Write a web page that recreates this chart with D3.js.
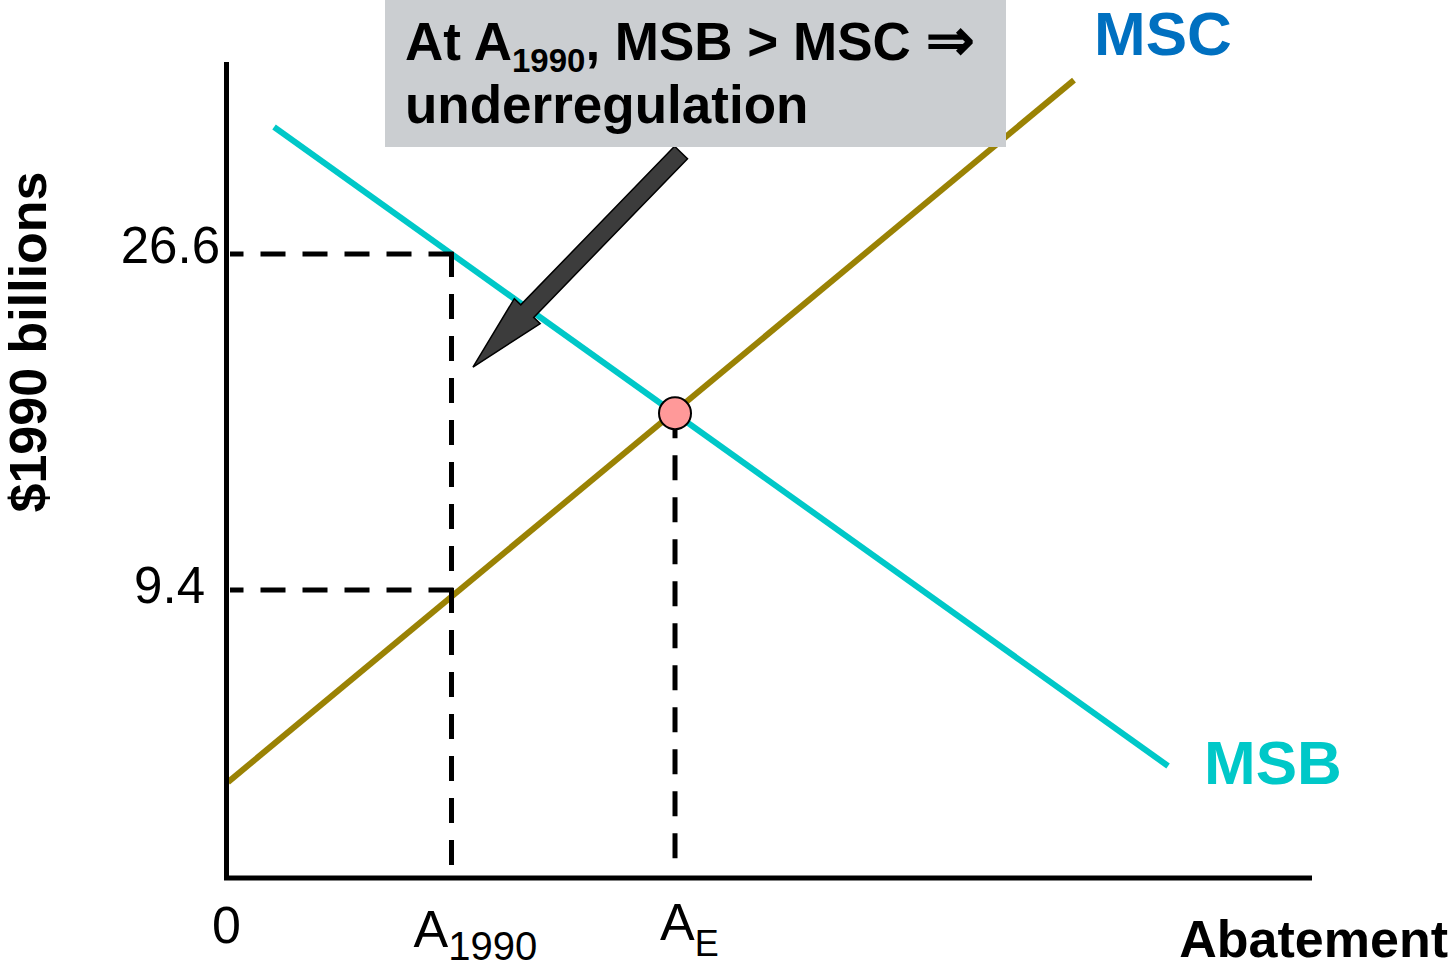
<!DOCTYPE html>
<html>
<head>
<meta charset="utf-8">
<script src="https://cdn.jsdelivr.net/npm/d3@7"></script>
<style>
  html, body { margin: 0; padding: 0; background: #fff; }
  svg { display: block; font-family: "Liberation Sans", Arial, Helvetica, sans-serif; }
</style>
</head>
<body>
<svg id="chart" width="1453" height="968"></svg>
<script>
// ---------------- DATA ----------------
const yTickValues = [9.4, 26.6];
const yTickLabels = ["9.4", "26.6"];
const xTickValues = [0, 1, 2];
const xTickMain = ["0", "A", "A"];
const xTickSub = ["", "1990", "E"];

// Marginal social benefit (falls) and marginal social cost (rises)
const msbX = [0.206, 4.206];
const msbY = [33.1, 0.39];
const mscX = [0, 3.785];
const mscY = [-0.43, 35.5];

// Equilibrium point (A_E)
const eqX = [2];
const eqY = [18.45];

// Reference level at A_1990
const a1990X = [1];
const a1990MSB = [26.6];
const a1990MSC = [9.4];

// Arrow annotation (tail -> tip, data units)
const arrowTail = [2.027, 31.8];
const arrowTip = [1.096, 20.81];

// ---------------- LAYOUT ----------------
const svg = d3.select("#chart");
const x = d3.scaleLinear().domain([0, 4.85]).range([228, 1312]);
const y = d3.scaleLinear().domain([-5.34, 36.43]).range([878, 62]);

const C = {
  msb: "#00C8C8",
  msc: "#9A8204",
  mscLabel: "#0070C0",
  box: "#CBCED1",
  arrow: "#3C3C3C",
  dot: "#FF9999"
};

const msb = msbX.map((d, i) => [d, msbY[i]]);
const msc = mscX.map((d, i) => [d, mscY[i]]);
const line = d3.line().x(d => x(d[0])).y(d => y(d[1]));

// Curves
svg.append("path").datum(msc).attr("d", line)
  .attr("fill", "none").attr("stroke", C.msc).attr("stroke-width", 6);
svg.append("path").datum(msb).attr("d", line)
  .attr("fill", "none").attr("stroke", C.msb).attr("stroke-width", 6);

// Dashed guide lines
const dashG = svg.append("g").attr("fill", "none").attr("stroke", "#000")
  .attr("stroke-width", 5).attr("stroke-dasharray", "25,17");
a1990X.forEach((ax, i) => {
  [a1990MSB[i], a1990MSC[i]].forEach(v => {
    dashG.append("line").attr("x1", x(ax) + 2).attr("x2", x(0) + 2)
      .attr("y1", y(v)).attr("y2", y(v));
  });
  dashG.append("line").attr("x1", x(ax)).attr("x2", x(ax))
    .attr("y1", y(a1990MSB[i]) - 2).attr("y2", y.range()[0] - 4);
});
eqX.forEach((ex, i) => {
  dashG.append("line").attr("x1", x(ex)).attr("x2", x(ex))
    .attr("y1", y(eqY[i])).attr("y2", y.range()[0] - 4);
});

// Axes
svg.append("path")
  .attr("d", `M${x(0) - 1.5},${y.range()[1]} V${y.range()[0]} H${x.range()[1]}`)
  .attr("fill", "none").attr("stroke", "#000").attr("stroke-width", 5);

// Equilibrium dot
svg.selectAll("circle.eq").data(eqX).join("circle").attr("class", "eq")
  .attr("cx", d => x(d)).attr("cy", (d, i) => y(eqY[i])).attr("r", 16)
  .attr("fill", C.dot).attr("stroke", "#000").attr("stroke-width", 2);

// Arrow
(function () {
  const tx = x(arrowTail[0]), ty = y(arrowTail[1]);
  const px = x(arrowTip[0]), py = y(arrowTip[1]);
  const L = Math.hypot(px - tx, py - ty);
  const ux = (px - tx) / L, uy = (py - ty) / L;
  const nx = -uy, ny = ux;
  const sw = 9, hw = 18, hl = 78;
  const bx = px - ux * hl, by = py - uy * hl;
  const pts = [
    [tx + nx * sw, ty + ny * sw],
    [bx + nx * sw, by + ny * sw],
    [bx + nx * hw, by + ny * hw],
    [px, py],
    [bx - nx * hw, by - ny * hw],
    [bx - nx * sw, by - ny * sw],
    [tx - nx * sw, ty - ny * sw]
  ];
  svg.append("polygon").attr("points", pts.map(p => p.join(",")).join(" "))
    .attr("fill", C.arrow).attr("stroke", "#000").attr("stroke-width", 1.5)
    .attr("stroke-linejoin", "miter");
})();

// Annotation box
svg.append("rect").attr("x", 385).attr("y", 0).attr("width", 621).attr("height", 147)
  .attr("fill", C.box);
const t1 = svg.append("text").attr("x", 405).attr("y", 60)
  .attr("font-size", 53).attr("font-weight", "bold").attr("fill", "#000");
t1.append("tspan").text("At A");
t1.append("tspan").attr("font-size", 33).attr("dy", 12).text("1990");
t1.append("tspan").attr("dy", -12).text(", MSB > MSC ");
t1.append("tspan").attr("font-size", 58).text("\u21D2");
svg.append("text").attr("x", 405).attr("y", 123)
  .attr("font-size", 53).attr("font-weight", "bold").attr("fill", "#000")
  .text("underregulation");

// Curve labels
svg.append("text").attr("x", 1094).attr("y", 55).attr("font-size", 62)
  .attr("font-weight", "bold").attr("fill", C.mscLabel).text("MSC");
svg.append("text").attr("x", 1204).attr("y", 784).attr("font-size", 62)
  .attr("font-weight", "bold").attr("fill", C.msb).text("MSB");

// Y tick labels
svg.selectAll("text.ytick").data(yTickValues).join("text").attr("class", "ytick")
  .attr("x", (d, i) => i === 0 ? 205 : 220)
  .attr("y", d => y(d))
  .attr("dy", (d, i) => i === 0 ? 13 : 9)
  .attr("text-anchor", "end").attr("font-size", 51).attr("fill", "#000")
  .text((d, i) => yTickLabels[i]);

// X tick labels
const xOff = [-16, -38, -15];
const xBase = [943, 947, 940];
const xSubSize = [0, 40, 36];
const xSubDy = [0, 13, 16];
xTickValues.forEach((v, i) => {
  const t = svg.append("text").attr("x", x(v) + xOff[i]).attr("y", xBase[i])
    .attr("font-size", 52).attr("fill", "#000");
  t.append("tspan").text(xTickMain[i]);
  if (xTickSub[i]) t.append("tspan").attr("font-size", xSubSize[i]).attr("dy", xSubDy[i]).text(xTickSub[i]);
});

// Axis titles
svg.append("text").attr("x", 1448).attr("y", 957).attr("text-anchor", "end")
  .attr("font-size", 52).attr("font-weight", "bold").attr("fill", "#000").text("Abatement");
svg.append("text").attr("transform", "translate(46,342) rotate(-90)")
  .attr("text-anchor", "middle").attr("font-size", 52).attr("font-weight", "bold")
  .attr("fill", "#000").text("$1990 billions");
</script>
</body>
</html>
